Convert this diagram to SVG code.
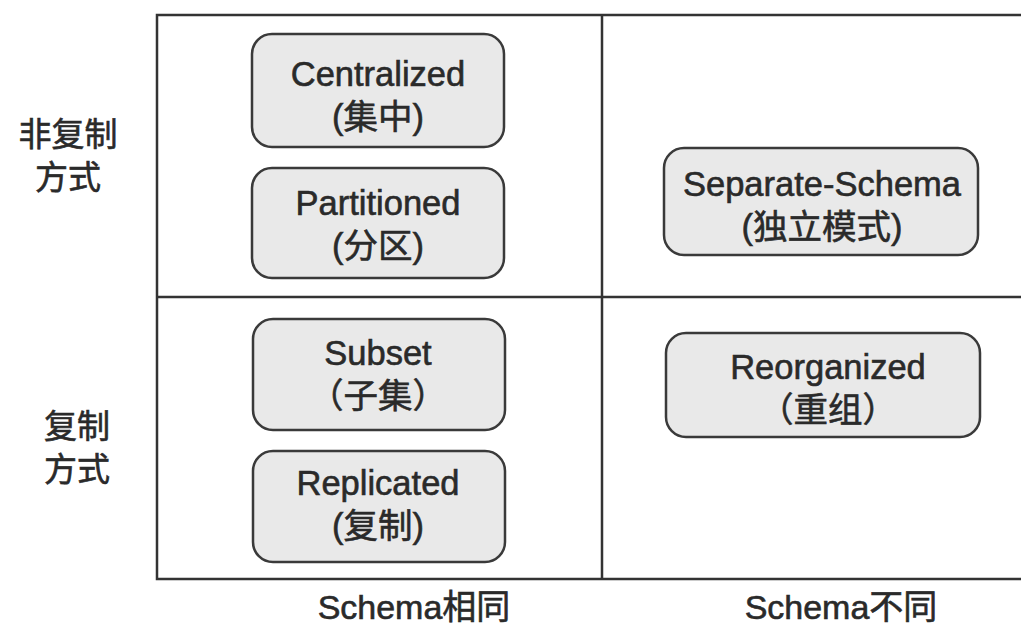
<svg xmlns="http://www.w3.org/2000/svg" width="1021" height="625" viewBox="0 0 1021 625">
<style>
text{font-family:"Liberation Sans","Noto Sans CJK SC",sans-serif;fill:#2a2a2a;stroke:#2a2a2a;stroke-width:0.6;text-anchor:middle}
.n{font-size:34.5px}
.lbl{font-size:33px}
.col{font-size:34px}
.box{fill:#e9e9e9;stroke:#3a3a3a;stroke-width:2.5}
.frame{fill:none;stroke:#333;stroke-width:2.5}
</style>
<rect width="1021" height="625" fill="#fff"/>
<g id="grid">
<path class="frame" d="M1030,15 H157 V579 H1030"/>
<line class="frame" x1="157" y1="297" x2="1030" y2="297"/>
<line class="frame" x1="602" y1="15" x2="602" y2="579" stroke-width="2"/>
</g>
<g id="row-labels">
<text class="lbl" x="68" y="146">非复制</text>
<text class="lbl" x="68" y="189">方式</text>
<text class="lbl" x="77" y="438">复制</text>
<text class="lbl" x="77" y="481">方式</text>
</g>
<g id="col-labels">
<text class="col" x="414" y="619">Schema相同</text>
<text class="col" x="841" y="619">Schema不同</text>
</g>
<g id="centralized">
<rect class="box" x="252" y="34" width="252" height="113" rx="20"/>
<text class="n" x="378" y="86">Centralized</text>
<text class="n" x="378" y="129">(集中)</text>
</g>
<g id="partitioned">
<rect class="box" x="252" y="168" width="252" height="110" rx="20"/>
<text class="n" x="378" y="215">Partitioned</text>
<text class="n" x="378" y="258">(分区)</text>
</g>
<g id="separate-schema">
<rect class="box" x="664" y="148" width="314" height="107" rx="20"/>
<text class="n" x="822" y="196">Separate-Schema</text>
<text class="n" x="822" y="239">(独立模式)</text>
</g>
<g id="subset">
<rect class="box" x="253" y="319" width="252" height="111" rx="20"/>
<text class="n" x="378" y="365">Subset</text>
<text class="n" x="378" y="408">（子集）</text>
</g>
<g id="replicated">
<rect class="box" x="253" y="451" width="252" height="111" rx="20"/>
<text class="n" x="378" y="495">Replicated</text>
<text class="n" x="378" y="538">(复制)</text>
</g>
<g id="reorganized">
<rect class="box" x="666" y="333" width="314" height="104" rx="20"/>
<text class="n" x="828" y="379">Reorganized</text>
<text class="n" x="828" y="422">（重组）</text>
</g>
<g id="connectors"></g>
</svg>
